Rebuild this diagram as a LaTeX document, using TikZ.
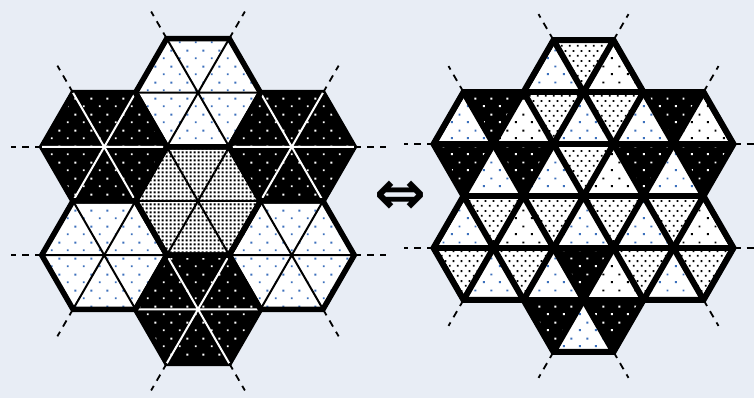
\documentclass[tikz,border=0pt]{standalone}
\usepackage{fontspec}
\newfontfamily\arrowfont{DejaVu Sans}
\usetikzlibrary{patterns}

\definecolor{paper}{RGB}{232,237,245}
\definecolor{dotblue}{RGB}{60,112,188}

% square dots: sparse, medium, dense
\pgfdeclarepatternformonly{sparse}{\pgfqpoint{0pt}{0pt}}{\pgfqpoint{16pt}{16pt}}{\pgfqpoint{16pt}{16pt}}{%
  \pgfpathrectangle{\pgfqpoint{3pt}{3pt}}{\pgfqpoint{2pt}{2pt}}%
  \pgfpathrectangle{\pgfqpoint{11pt}{11pt}}{\pgfqpoint{2pt}{2pt}}%
  \pgfusepath{fill}}
\pgfdeclarepatternformonly{medium}{\pgfqpoint{0pt}{0pt}}{\pgfqpoint{8pt}{10pt}}{\pgfqpoint{8pt}{10pt}}{%
  \pgfpathrectangle{\pgfqpoint{1pt}{1.5pt}}{\pgfqpoint{2pt}{2pt}}%
  \pgfpathrectangle{\pgfqpoint{5pt}{6.5pt}}{\pgfqpoint{2pt}{2pt}}%
  \pgfusepath{fill}}
\pgfdeclarepatternformonly{dense}{\pgfqpoint{0pt}{0pt}}{\pgfqpoint{3.6pt}{3.6pt}}{\pgfqpoint{3.6pt}{3.6pt}}{%
  \pgfpathrectangle{\pgfqpoint{.75pt}{.75pt}}{\pgfqpoint{2.1pt}{2.1pt}}%
  \pgfusepath{fill}}

\tikzset{
  bdot/.style={preaction={fill=white}, pattern=sparse, pattern color=dotblue},
  kdot/.style={preaction={fill=white}, pattern=sparse, pattern color=black},
  wdot/.style={preaction={fill=black}, pattern=sparse, pattern color=white},
  fdot/.style={preaction={fill=white}, pattern=medium, pattern color=black},
  ddot/.style={preaction={fill=white}, pattern=dense, pattern color=black},
  rim/.style={line width=5.5pt},
  spoke/.style={line width=2pt},
  cut/.style={line width=1.8pt, dash pattern=on 7pt off 6pt},
}

% outline of the seven hexagons (half side / half height units)
\newcommand\rosette{(-1,3) -- (1,3) -- (2,2) -- (4,2) -- (5,1) -- (4,0) -- (5,-1) -- (4,-2) -- (2,-2) -- (1,-3) -- (-1,-3) -- (-2,-2) -- (-4,-2) -- (-5,-1) -- (-4,0) -- (-5,1) -- (-4,2) -- (-2,2) -- cycle}
\newcommand\cuts{%
  \foreach \vx/\vy/\dx/\dy in {-1/3/-.5/.5, 1/3/.5/.5, -4/2/-.5/.5, 4/2/.5/.5, -5/1/-1/0, 5/1/1/0, -5/-1/-1/0, 5/-1/1/0, -4/-2/-.5/-.5, 4/-2/.5/-.5, -1/-3/-.5/-.5, 1/-3/.5/-.5}
    \draw[cut] (\vx,\vy) -- ++(\dx,\dy);}

\begin{document}
\begin{tikzpicture}[x=1pt,y=1pt]
\useasboundingbox (0,0) rectangle (754,398);
\fill[paper] (0,0) rectangle (754,398);
\clip (0,0) rectangle (754,398);

% left: hexagons
\begin{scope}[shift={(198pt,197pt)}, x=31.25pt, y=54.13pt]
\foreach \cx/\cy/\p in {0/2/bdot, -3/1/wdot, 3/1/wdot, 0/0/ddot, -3/-1/bdot, 3/-1/bdot, 0/-2/wdot}
  \path[\p] (\cx+2,\cy) -- (\cx+1,\cy+1) -- (\cx-1,\cy+1) -- (\cx-2,\cy) -- (\cx-1,\cy-1) -- (\cx+1,\cy-1) -- cycle;
\foreach \cx/\cy in {-3/1, 3/1, 0/-2} {
  \draw[rim] (\cx+2,\cy) -- (\cx+1,\cy+1) -- (\cx-1,\cy+1) -- (\cx-2,\cy) -- (\cx-1,\cy-1) -- (\cx+1,\cy-1) -- cycle;
  \draw[spoke, white] (\cx-2,\cy) -- (\cx+2,\cy) (\cx-1,\cy+1) -- (\cx+1,\cy-1) (\cx+1,\cy+1) -- (\cx-1,\cy-1);
}
\foreach \cx/\cy in {0/2, 0/0, -3/-1, 3/-1} {
  \draw[spoke] (\cx-2,\cy) -- (\cx+2,\cy) (\cx-1,\cy+1) -- (\cx+1,\cy-1) (\cx+1,\cy+1) -- (\cx-1,\cy-1);
  \draw[rim] (\cx+2,\cy) -- (\cx+1,\cy+1) -- (\cx-1,\cy+1) -- (\cx-2,\cy) -- (\cx-1,\cy-1) -- (\cx+1,\cy-1) -- cycle;
}
\cuts
\end{scope}

\node (equiv) at (400,200) {\fontsize{62}{62}\arrowfont\bfseries ⇔};

% right: triangles, row by row from the top
\begin{scope}[shift={(583.5pt,202pt)}, x=30pt, y=51.96pt]
\begin{scope}
\clip \rosette;
\foreach \yb/\xo/\f/\row in {
    2/-2/0/{bdot,fdot,kdot},
    1/-5/0/{bdot,wdot,kdot,fdot,bdot,fdot,bdot,wdot,kdot},
    0/-5/1/{wdot,bdot,wdot,bdot,fdot,kdot,wdot,bdot,wdot},
    -1/-5/0/{bdot,fdot,kdot,fdot,bdot,fdot,bdot,fdot,kdot},
    -2/-5/1/{fdot,bdot,fdot,bdot,wdot,kdot,fdot,bdot,fdot},
    -3/-2/1/{wdot,bdot,wdot}}
  \foreach \p [count=\k from 0] in \row {
    \pgfmathtruncatemacro\flip{mod(\k+\f,2)}
    \path[\p] (\xo+\k,\yb+\flip) -- (\xo+\k+2,\yb+\flip) -- (\xo+\k+1,\yb+1-\flip) -- cycle;
  }
\foreach \c in {-3,...,3}
  \draw[rim, line width=6pt] (-6,\c) -- (6,\c);
\foreach \c in {-8,-6,...,8}
  \draw[rim, line width=6pt] (\c-4,-4) -- (\c+4,4) (\c+4,-4) -- (\c-4,4);
\end{scope}
\draw[rim, line width=6pt] \rosette;
\cuts
\end{scope}
\end{tikzpicture}
\end{document}
